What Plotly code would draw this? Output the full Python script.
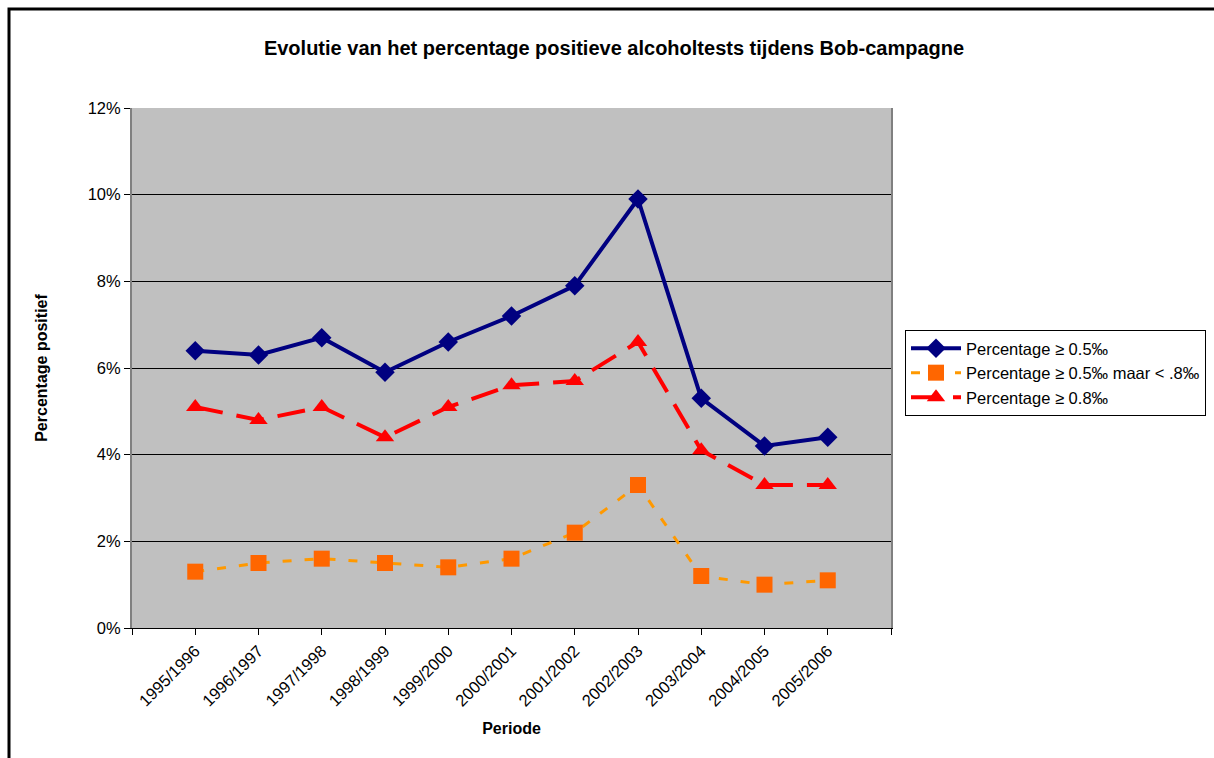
import plotly.graph_objects as go

periods = ["1995/1996", "1996/1997", "1997/1998", "1998/1999", "1999/2000",
           "2000/2001", "2001/2002", "2002/2003", "2003/2004", "2004/2005", "2005/2006"]
pct_05 = [6.4, 6.3, 6.7, 5.9, 6.6, 7.2, 7.9, 9.9, 5.3, 4.2, 4.4]
pct_05_08 = [1.3, 1.5, 1.6, 1.5, 1.4, 1.6, 2.2, 3.3, 1.2, 1.0, 1.1]
pct_08 = [5.1, 4.8, 5.1, 4.4, 5.1, 5.6, 5.7, 6.6, 4.1, 3.3, 3.3]
y_ticks = [0, 2, 4, 6, 8, 10, 12]

FONT = "Liberation Sans, Arial, sans-serif"
W, H = 1214, 758
L, R, T, B = 132, 323, 108, 130
pw, ph = W - L - R, H - T - B

xpos = list(range(1, len(periods) + 1))

fig = go.Figure()
fig.add_trace(go.Scatter(
    x=xpos, y=pct_05, name="Percentage ≥ 0.5‰", mode="lines+markers",
    line=dict(color="#000080", width=4),
    marker=dict(symbol="diamond", size=15, color="#000080"),
))
fig.add_trace(go.Scatter(
    x=xpos, y=pct_05_08, name="Percentage ≥ 0.5‰ maar < .8‰", mode="lines+markers",
    line=dict(color="#FF9900", width=3, dash="9px,13px"),
    marker=dict(symbol="square", size=16, color="#FF6600"),
))
fig.add_trace(go.Scatter(
    x=xpos, y=pct_08, name="Percentage ≥ 0.8‰", mode="lines+markers",
    line=dict(color="#FF0000", width=4, dash="28px,14px"),
    marker=dict(symbol="triangle-up", size=16, color="#FF0000"),
))

# outer chart frame
fig.add_shape(type="rect", xref="paper", yref="paper",
              x0=(9 - L) / pw, x1=(W + 20 - L) / pw,
              y0=(H - B - (H + 20)) / ph, y1=(H - B - 9) / ph,
              line=dict(color="black", width=3), fillcolor="rgba(0,0,0,0)",
              layer="below")

fig.update_layout(
    width=W, height=H,
    margin=dict(l=L, r=R, t=T, b=B, autoexpand=False),
    paper_bgcolor="white", plot_bgcolor="#C0C0C0",
    font=dict(family=FONT, size=16, color="black"),
    title=dict(text="<b>Evolutie van het percentage positieve alcoholtests tijdens Bob-campagne</b>",
               x=614 / W, xanchor="center", y=1 - 48 / H, yanchor="middle",
               font=dict(size=20, family=FONT)),
    xaxis=dict(
        range=[0, 12], tickmode="array",
        tickvals=list(range(0, 13)),
        ticktext=[""] + periods + [""],
        tickangle=-45, ticks="outside", ticklen=6, tickcolor="black",
        showgrid=False, zeroline=False,
        showline=True, linecolor="black", linewidth=1, mirror=False,
        title=dict(text="<b>Periode</b>", font=dict(size=16), standoff=14),
        tickfont=dict(size=16.5),
    ),
    yaxis=dict(
        range=[0, 12], tickmode="array", tickvals=y_ticks,
        ticktext=[f"{v}%" for v in y_ticks],
        ticks="outside", ticklen=6, tickcolor="black",
        showgrid=True, gridcolor="black", gridwidth=1, zeroline=False,
        showline=True, linecolor="#808080", linewidth=2, mirror=True,
        title=dict(text="<b>Percentage positief</b>", font=dict(size=16), standoff=36),
        tickfont=dict(size=16.5),
    ),
    legend=dict(
        x=(905 - L) / pw, xanchor="left", y=(H - B - 330) / ph, yanchor="top",
        bordercolor="black", borderwidth=1, bgcolor="white",
        font=dict(size=16.5), tracegroupgap=0, itemsizing="trace",
        itemwidth=50,
    ),
    showlegend=True,
)

fig.write_html("out.html")
